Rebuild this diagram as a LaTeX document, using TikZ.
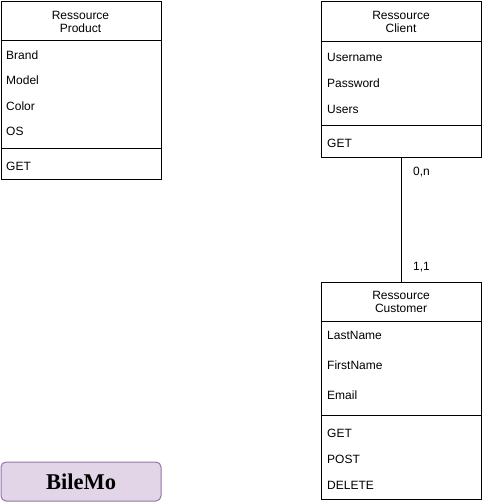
\documentclass[tikz,border=0pt]{standalone}
\usepackage{fontspec}
\setmainfont{Liberation Sans}
\newfontfamily\serifbold{Liberation Serif}
\definecolor{bfill}{HTML}{E1D5E7}
\definecolor{bdraw}{HTML}{9673A6}
\begin{document}
\begin{tikzpicture}[x=1pt,y=-1pt,
  box/.style={draw=black,line width=1pt,anchor=north west,inner sep=0pt,minimum width=160pt},
  sep/.style={draw=black,line width=1pt},
  attr/.style={anchor=west,inner sep=0pt,text height=8.6pt,text depth=0pt,font=\fontsize{12}{14}\selectfont},
  head/.style={anchor=center,inner sep=0pt,align=center,font=\fontsize{12}{13}\selectfont},
  lbl/.style={anchor=west,inner sep=0pt,text height=8.6pt,text depth=0pt,font=\fontsize{12}{14}\selectfont},
  conn/.style={draw=black,line width=1pt}]
\useasboundingbox (0,0) rectangle (482,502);
% Product
\node[box,minimum height=178pt] (product) at (0.5,1) {};
\node[head] (producth) at (80.5,21.5) {Ressource\\Product};
\draw[sep] (0.5,41) -- (160.5,41);
\node[attr] (p1) at (6,55) {Brand};
\node[attr] (p2) at (6,80) {Model};
\node[attr] (p3) at (6,106) {Color};
\node[attr] (p4) at (6,131) {OS};
\draw[sep] (0.5,149) -- (160.5,149);
\node[attr] (p5) at (6,166) {GET};
% Client
\node[box,minimum height=156pt] (client) at (321,1) {};
\node[head] (clienth) at (401,21.5) {Ressource\\Client};
\draw[sep] (321,42) -- (481,42);
\node[attr] (c1) at (327,57) {Username};
\node[attr] (c2) at (327,83) {Password};
\node[attr] (c3) at (327,109) {Users};
\draw[sep] (321,126) -- (481,126);
\node[attr] (c4) at (327,143) {GET};
% Customer
\node[box,minimum height=217pt] (customer) at (321,282) {};
\node[head] (customerh) at (401,301.5) {Ressource\\Customer};
\draw[sep] (321,321) -- (481,321);
\node[attr] (u1) at (327,335) {LastName};
\node[attr] (u2) at (327,365) {FirstName};
\node[attr] (u3) at (327,395) {Email};
\draw[sep] (321,415) -- (481,415);
\node[attr] (u4) at (327,433) {GET};
\node[attr] (u5) at (327,459) {POST};
\node[attr] (u6) at (327,485) {DELETE};
% connector
\draw[conn] (client.south) -- (customer.north);
\node[lbl] (l1) at (413,171) {0,n};
\node[lbl] (l2) at (413,266) {1,1};
% BileMo
\node[draw=bdraw,fill=bfill,line width=1pt,rounded corners=5pt,minimum width=160pt,minimum height=39pt,anchor=north west,inner sep=0pt,font=\serifbold\bfseries\fontsize{22.5}{26}\selectfont] (bilemo) at (0.5,461.5) {BileMo};
\end{tikzpicture}
\end{document}
